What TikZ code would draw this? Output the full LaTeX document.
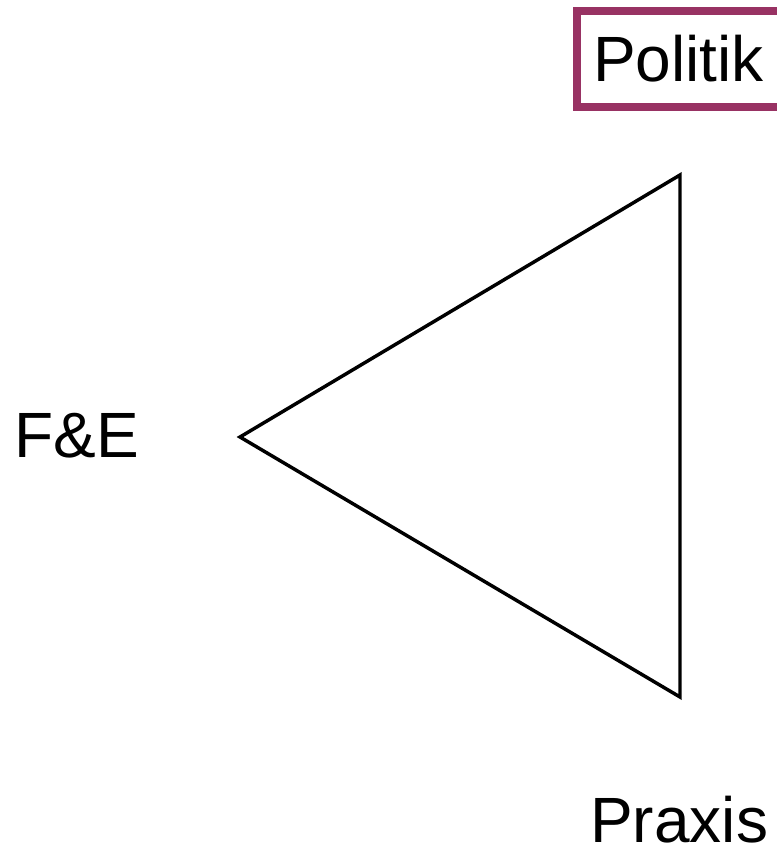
\documentclass[tikz,border=0pt]{standalone}
\usepackage{fontspec}
\setmainfont{Liberation Sans}
\definecolor{politikrot}{RGB}{152,50,99}
\tikzset{
    eck/.style={inner sep=0pt, font=\fontsize{48}{57}\selectfont},
    rahmen/.style={draw=politikrot, line width=6pt, inner xsep=12pt,
        text width=150pt, align=left, minimum height=72pt,
        font=\fontsize{48}{57}\selectfont}
}

\begin{document}
\begin{tikzpicture}[x=0.75pt, y=-0.75pt]
    \useasboundingbox (0,0) rectangle (776,854);

    \coordinate (P) at (680, 175);
    \coordinate (F) at (240, 437);
    \coordinate (R) at (680, 697);

    \draw[line width=2.6pt] (P) -- (F) -- (R) -- cycle;

    \node[rahmen, anchor=west] (politik) at (573, 59) {Politik};
    \node[eck, anchor=base west] (fue) at (14, 457) {F\&E};
    \node[eck, anchor=base west] (praxis) at (590, 842) {Praxis};
\end{tikzpicture}
\end{document}
